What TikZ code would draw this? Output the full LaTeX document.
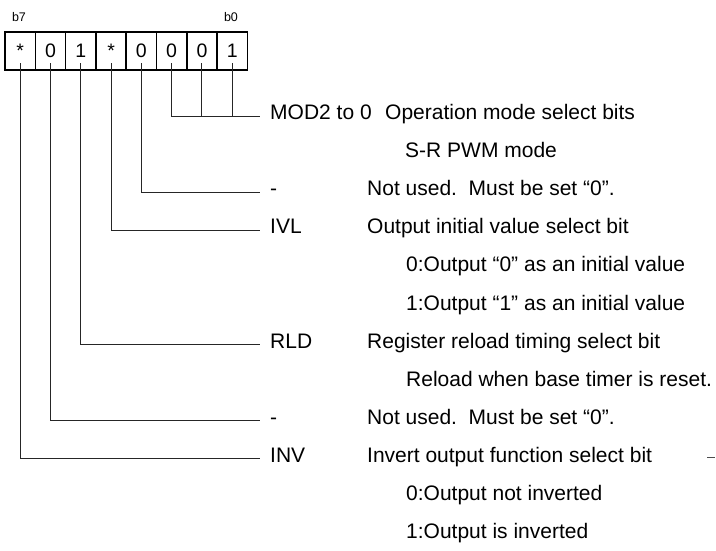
\documentclass[tikz,border=0pt]{standalone}
\usepackage{fontspec}
\setmainfont{Liberation Sans}
\begin{document}
\begin{tikzpicture}[x=1pt,y=-1pt,
  cell/.style={draw,line width=1.5pt,minimum width=30.3pt,minimum height=38pt,inner sep=0pt,outer sep=0pt,font=\fontsize{19.5}{22}\selectfont},
  bitlbl/.style={inner sep=0pt,font=\fontsize{12.5}{14}\selectfont},
  lbl/.style={anchor=west,inner xsep=10pt,inner ysep=0pt,text height=0.716em,text depth=0pt,font=\fontsize{21}{24}\selectfont},
  desc/.style={anchor=west,inner sep=0pt,text height=0.716em,text depth=0pt,font=\fontsize{21}{24}\selectfont},
  lead/.style={line width=1pt,draw=black!85}]
\useasboundingbox (0,0) rectangle (716,550);
% register cells b7..b0
\foreach \i/\v in {7/*,6/0,5/1,4/*,3/0,2/0,1/0,0/1}{
  \node[cell] (c\i) at ({5+30.3*(7-\i)+15.15},51) {\v};
}
\node[bitlbl] (b7) at (19,17) {b7};
\node[bitlbl] (b0) at (231,17) {b0};
% row positions
\def\ry#1{116+38.1*#1}
% labels
\node[lbl] (lMOD) at (260,{\ry{0}}) {MOD2 to 0};
\node[desc] (dMOD) at (385,{\ry{0}}) {Operation mode select bits};
\node[desc] (sMOD) at (405,{\ry{1}}) {S-R PWM mode};
\node[lbl] (l3) at (260,{\ry{2}}) {-};
\node[desc] (d3) at (367,{\ry{2}}) {Not used.\ \ Must be set “0”.};
\node[lbl] (lIVL) at (260,{\ry{3}}) {IVL};
\node[desc] (dIVL) at (367,{\ry{3}}) {Output initial value select bit};
\node[desc] (sIVL0) at (406,{\ry{4}}) {0:Output “0” as an initial value};
\node[desc] (sIVL1) at (406,{\ry{5}}) {1:Output “1” as an initial value};
\node[lbl] (lRLD) at (260,{\ry{6}}) {RLD};
\node[desc] (dRLD) at (367,{\ry{6}}) {Register reload timing select bit};
\node[desc] (sRLD) at (406,{\ry{7}}) {Reload when base timer is reset.};
\node[lbl] (l6) at (260,{\ry{8}}) {-};
\node[desc] (d6) at (367,{\ry{8}}) {Not used.\ \ Must be set “0”.};
\node[lbl] (lINV) at (260,{\ry{9}}) {INV};
\node[desc] (dINV) at (367,{\ry{9}}) {Invert output function select bit};
\node[desc] (sINV0) at (406,{\ry{10}}) {0:Output not inverted};
\node[desc] (sINV1) at (406,{\ry{11}}) {1:Output is inverted};
% leaders
\draw[lead] ([yshift=7pt]c2.south) |- (lMOD.west);
\draw[lead] ([yshift=7pt]c1.south) -- (c1.south |- lMOD.west);
\draw[lead] ([yshift=7pt]c0.south) -- (c0.south |- lMOD.west);
\draw[lead] ([yshift=7pt]c3.south) |- (l3.west);
\draw[lead] ([yshift=7pt]c4.south) |- (lIVL.west);
\draw[lead] ([yshift=7pt]c5.south) |- (lRLD.west);
\draw[lead] ([yshift=7pt]c6.south) |- (l6.west);
\draw[lead] ([yshift=7pt]c7.south) |- (lINV.west);
% stray mark at right
\draw[line width=1pt,draw=black!70] (707,457) -- (715,457);
\end{tikzpicture}
\end{document}
